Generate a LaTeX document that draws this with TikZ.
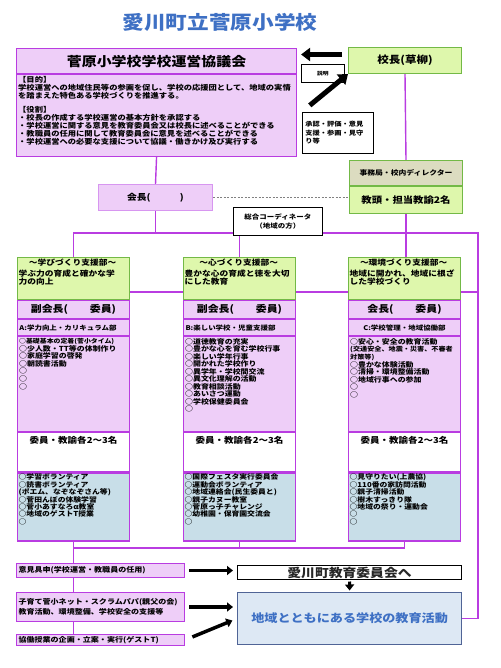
\documentclass[tikz,border=0pt]{standalone}
\usepackage{fontspec}
\setmainfont{Noto Sans CJK JP}[FakeStretch=1.15]
\usepackage{tikz}
\usetikzlibrary{arrows.meta, positioning, backgrounds}

\definecolor{vio}{RGB}{185,60,225}
\definecolor{lilac}{RGB}{238,206,248}
\definecolor{pale}{RGB}{215,150,240}
\definecolor{leaf}{RGB}{115,185,70}
\definecolor{lime}{RGB}{222,247,172}
\definecolor{khaki}{RGB}{220,220,192}
\definecolor{mist}{RGB}{200,222,232}
\definecolor{sky}{RGB}{221,232,244}
\definecolor{slate}{RGB}{80,100,150}
\definecolor{ink}{RGB}{62,112,196}

\newcommand{\fs}[2]{\fontsize{#1}{#2}\selectfont}

\begin{document}
\begin{tikzpicture}[x=1pt, y=-1pt,
    cell/.style={draw=vio, fill=lilac, line width=1.1pt, inner sep=0pt, minimum width=112pt},
    leafbox/.style={draw=leaf, fill=lime, line width=1pt, inner sep=0pt},
    note/.style={draw=black, fill=white, line width=0.7pt, inner sep=0pt},
    strip/.style={draw=vio, fill=lilac, line width=1pt, inner xsep=2pt, inner ysep=0pt,
      minimum width=168pt, text width=164pt, align=left, font=\fs{7}{9.3}\bfseries},
    inlabel/.style={anchor=north west, inner sep=2pt, align=left},
    link/.style={vio, line width=1.4pt},
    fat/.style={line width=3.5pt, -{Triangle[length=6pt, width=9pt]}},
    fatter/.style={line width=5pt, -{Triangle[length=9pt, width=13pt]}}]
    \useasboundingbox (0,0) rectangle (500,668);

    % Title
    \node[ink, font=\fs{18.8}{20}\bfseries] (title) at (220,22) {愛川町立菅原小学校};

    % Council
    \node[cell, anchor=north west, minimum width=280pt, minimum height=25pt,
      font=\fs{13}{14}\bfseries] (council) at (16,48) {菅原小学校学校運営協議会};
    \node[cell, below=0pt of council, minimum width=280pt, minimum height=82pt,
      label={[inlabel, font=\fs{7.2}{6.9}\bfseries]north west:{【目的】\\
        学校運営への地域住民等の参画を促し、学校の応援団として、地域の実情\\
        を踏まえた特色ある学校づくりを推進する。\\[6.9pt]
        【役割】\\
        ・校長の作成する学校運営の基本方針を承認する\\
        ・学校運営に関する意見を教育委員会又は校長に述べることができる\\
        ・教職員の任用に関して教育委員会に意見を述べることができる\\
        ・学校運営への必要な支援について協議・働きかけ及び実行する}}] (aims) {};

    % Principal and notes
    \node[leafbox, anchor=north west, minimum width=113pt, minimum height=26pt,
      font=\fs{10}{11}\bfseries] (head) at (348,47) {校長(草柳)};
    \node[note, anchor=north west, minimum width=43pt, minimum height=18pt,
      font=\fs{5}{6}\bfseries] (explain) at (301,64) {説明};
    \node[note, anchor=north west, minimum width=71pt, minimum height=41pt,
      text width=65pt, align=left, font=\fs{6.3}{8.3}\bfseries] (consent) at (302,112)
      {承認・評価・意見\\支援・参画・見守\\り等};

    % Office
    \node[leafbox, fill=khaki, anchor=north west, minimum width=113pt, minimum height=25pt,
      font=\fs{6.8}{7}\bfseries] (dirtop) at (349,160) {事務局・校内ディレクター};
    \node[leafbox, below=0pt of dirtop, minimum width=113pt, minimum height=27pt,
      font=\fs{9}{10}\bfseries] (office) {教頭・担当教諭2名};

    % Chair and coordinator
    \node[draw=pale, fill=lilac, line width=1pt, anchor=north west, minimum width=114pt,
      minimum height=26pt, font=\fs{8.5}{9}\bfseries] (chair) at (98,184) {会長(　　　)};
    \node[note, anchor=north west, minimum width=89pt, minimum height=28pt, align=center,
      font=\fs{6.5}{9}\bfseries] (coord) at (233,207) {総合コーディネータ\\（地域の方）};

    % Column A
    \node[leafbox, anchor=north west, minimum width=112pt, minimum height=42pt,
      label={[inlabel, inner sep=1.5pt, text width=108pt, font=\fs{7.6}{8.5}\bfseries]north west:{%
        \makebox[108pt]{～学びづくり支援部～}\\[2.5pt]学ぶ力の育成と確かな学\\力の向上}}] (hdrA) at (17,257) {};
    \node[cell, below=0pt of hdrA, minimum height=18pt, font=\fs{9.5}{10}\bfseries] (roleA) {副会長(　　委員)};
    \node[cell, below=0pt of roleA, minimum height=16pt, text width=108pt, align=left,
      font=\fs{6.5}{7}\bfseries] (deptA) {A:学力向上・カリキュラム部};
    \node[cell, below=0pt of deptA, minimum height=95pt,
      label={[inlabel, font=\fs{6.9}{7.6}\bfseries]north west:{{\fs{6}{7.6}○基礎基本の定着(菅小タイム)}\\
        ○少人数・TT等の体制作り\\○家庭学習の啓発\\○朝読書活動\\○\\○\\○}}] (listA) {};
    \node[cell, fill=white, below=0pt of listA, minimum height=39pt,
      label={[anchor=north, inner sep=4pt, font=\fs{8.3}{9}\bfseries]north:委員・教諭各2～3名}] (staffA) {};
    \node[cell, fill=mist, below=0pt of staffA, minimum height=68pt,
      label={[inlabel, inner sep=1.5pt, font=\fs{6.8}{7.4}\bfseries]north west:{○学習ボランティア\\
        ○読書ボランティア\\(ポエム、なぞなぞさん等)\\○菅田んぼの体験学習\\
        ○菅小あすなろα教室\\○地域のゲストT授業\\○}}] (volA) {};

    % Column B
    \node[leafbox, anchor=north west, minimum width=112pt, minimum height=42pt,
      label={[inlabel, inner sep=1.5pt, text width=108pt, font=\fs{7.6}{8.5}\bfseries]north west:{%
        \makebox[108pt]{～心づくり支援部～}\\[2.5pt]豊かな心の育成と徳を大切\\にした教育}}] (hdrB) at (183,257) {};
    \node[cell, below=0pt of hdrB, minimum height=18pt, font=\fs{9.5}{10}\bfseries] (roleB) {副会長(　　委員)};
    \node[cell, below=0pt of roleB, minimum height=16pt, text width=108pt, align=left,
      font=\fs{6.5}{7}\bfseries] (deptB) {B:楽しい学校・児童支援部};
    \node[cell, below=0pt of deptB, minimum height=95pt,
      label={[inlabel, font=\fs{6.9}{7.5}\bfseries]north west:{○道徳教育の充実\\○豊かな心を育む学校行事\\
        ○楽しい学年行事\\○開かれた学校作り\\○異学年・学校間交流\\○異文化理解の活動\\
        ○教育相談活動\\○あいさつ運動\\○学校保健委員会\\○}}] (listB) {};
    \node[cell, fill=white, below=0pt of listB, minimum height=39pt,
      label={[anchor=north, inner sep=4pt, font=\fs{8.3}{9}\bfseries]north:委員・教諭各2～3名}] (staffB) {};
    \node[cell, fill=mist, below=0pt of staffB, minimum height=68pt,
      label={[inlabel, inner sep=1.5pt, font=\fs{6.8}{7.4}\bfseries]north west:{○国際フェスタ実行委員会\\
        ○運動会ボランティア\\○地域連絡会(民生委員と)\\○親子カヌー教室\\
        ○菅原っ子チャレンジ\\○幼稚園・保育園交流会\\○}}] (volB) {};

    % Column C
    \node[leafbox, anchor=north west, minimum width=112pt, minimum height=42pt,
      label={[inlabel, inner sep=1.5pt, text width=108pt, font=\fs{7.6}{8.5}\bfseries]north west:{%
        \makebox[108pt]{～環境づくり支援部～}\\[2.5pt]地域に開かれ、地域に根ざ\\した学校づくり}}] (hdrC) at (348,257) {};
    \node[cell, below=0pt of hdrC, minimum height=18pt, font=\fs{9.5}{10}\bfseries] (roleC) {会長(　　委員)};
    \node[cell, below=0pt of roleC, minimum height=16pt, font=\fs{6.5}{7}\bfseries] (deptC) {C:学校管理・地域協働部};
    \node[cell, below=0pt of deptC, minimum height=95pt,
      label={[inlabel, font=\fs{6.9}{7.6}\bfseries]north west:{○安心・安全の教育活動\\
        {\fs{6.2}{7.6}(交通安全、地震・災害、不審者}\\{\fs{6.2}{7.6}対策等)}\\
        ○豊かな体験活動\\○清掃・環境整備活動\\○地域行事への参加\\○\\○}}] (listC) {};
    \node[cell, fill=white, below=0pt of listC, minimum height=39pt,
      label={[anchor=north, inner sep=4pt, font=\fs{8.3}{9}\bfseries]north:委員・教諭各2～3名}] (staffC) {};
    \node[cell, fill=mist, below=0pt of staffC, minimum height=68pt,
      label={[inlabel, inner sep=1.5pt, font=\fs{6.8}{7.4}\bfseries]north west:{○見守りたい(上農協)\\
        ○110番の家訪問活動\\○親子清掃活動\\○樹木すっきり隊\\
        ○地域の祭り・運動会\\○\\○}}] (volC) {};

    % Bottom boxes
    \node[strip, anchor=north west, minimum height=14pt] (opinion) at (16,563) {意見具申(学校運営・教職員の任用)};
    \node[strip, anchor=north west, minimum height=29pt] (support) at (16,592)
      {子育て菅小ネット・スクラムパパ(親父の会)\\教育活動、環境整備、学校安全の支援等};
    \node[strip, anchor=north west, minimum height=11pt] (task) at (16,634) {協働授業の企画・立案・実行(ゲストT)};
    \node[note, line width=1pt, anchor=north west, minimum width=224pt, minimum height=14pt,
      font=\fs{12}{12}\bfseries, text=black!85] (boe) at (237,565) {愛川町教育委員会へ};
    \node[draw=slate, fill=sky, line width=1.2pt, anchor=north west, minimum width=224pt,
      minimum height=52pt, font=\fs{11.4}{12}\bfseries, text=ink] (eduact) at (237,592) {地域とともにある学校の教育活動};

    % Arrows
    \draw[fatter, shorten <=6pt, shorten >=4pt] ([yshift=6pt]head.west) -- ([yshift=6pt]head.west -| council.east);
    \draw[fatter, shorten <=1pt] ([shift={(7pt,6pt)}]consent.north west) -- (head.south west);
    \draw[fat, shorten <=4pt, shorten >=4pt] (opinion.east) -- (opinion.east -| boe.west);
    \draw[fat, shorten <=4pt, shorten >=4pt] (support.east) -- (support.east -| eduact.west);
    \draw[fat, shorten <=8pt, shorten >=5pt] (task.east) -- (eduact.west);
    \draw[fat, line width=3pt, shorten <=1.5pt, shorten >=1.5pt] (boe.south) -- (eduact.north);
    \draw[gray, line width=0.5pt, dash pattern=on 2pt off 1.5pt] (chair.east) -- (chair.east -| office.west);

    % Lines
    \coordinate (bus) at (0,233);
    \coordinate (mid) at (0,292);
    \coordinate (foot) at (0,548);
    \coordinate (rim) at (478,0);
    \begin{scope}[on background layer]
        \draw[link] (aims.south) -- (chair.north);
        \draw[link] (chair.south) -- (chair.south |- bus);
        \draw[link] (hdrA.north) |- (rim |- bus) |- (eduact.east);
        \draw[link] (coord.south -| hdrB.north) -- (hdrB.north);
        \draw[link] (head.south) -- (dirtop.north);
        \draw[link] (office.south) -- (office.south |- hdrC.north);
        \draw[link] (hdrA.east |- mid) -- (rim |- mid);
        \draw[link] (volA.south) |- (volC.south |- foot) -- (volC.south);
        \draw[link] (volB.south) -- (volB.south |- foot);
        \draw[link] (volA.south |- foot) -- (volA.south |- task.center);
    \end{scope}
\end{tikzpicture}
\end{document}
